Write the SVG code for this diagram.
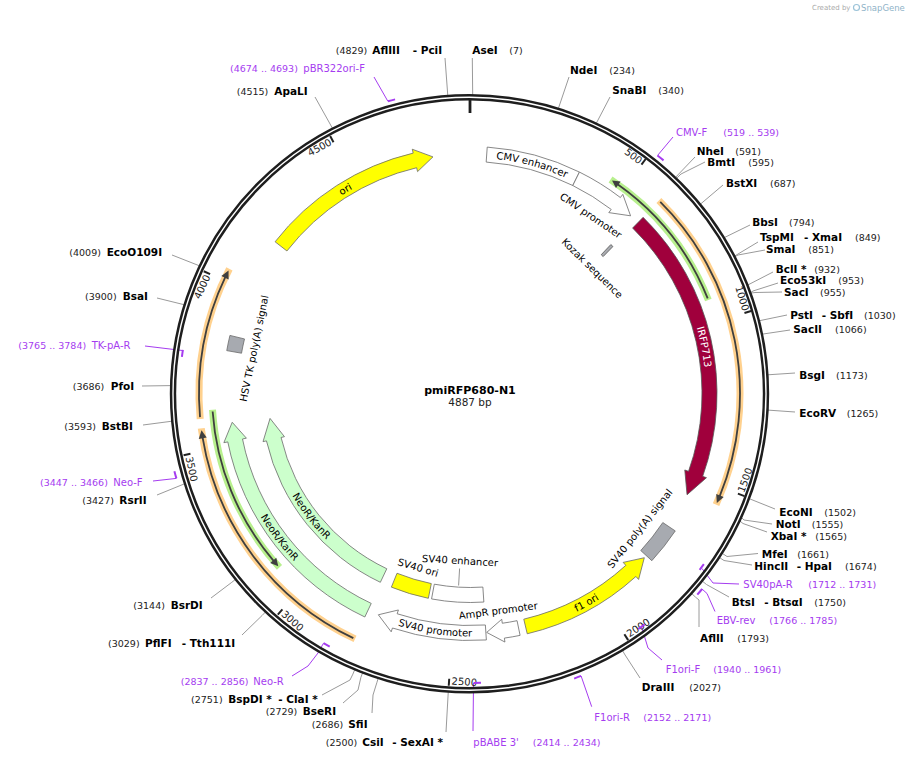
<svg xmlns="http://www.w3.org/2000/svg" width="910" height="759" viewBox="0 0 910 759">
<style>
.n{font:bold 10.5px "DejaVu Sans",sans-serif;fill:#000}
.p{font:9.5px "DejaVu Sans",sans-serif;fill:#222}
.pr{font:10px "DejaVu Sans",sans-serif;fill:#a53cf0}
.prn{font:9.5px "DejaVu Sans",sans-serif;fill:#a53cf0}
.ll{stroke:#9a9a9a;stroke-width:1;fill:none}
.pl{stroke:#a53cf0;stroke-width:1;fill:none}
.pm{stroke:#a53cf0;stroke-width:2;fill:none}
.f{stroke:#6a6a6a;stroke-width:0.8}
.fl{font:10px "DejaVu Sans",sans-serif;fill:#000}
.tk{stroke:#222;stroke-width:2}
.tl{font:10px "DejaVu Sans",sans-serif;fill:#222}
.gg{stroke:#b8f08e;stroke-width:7;fill:none}
.og{stroke:#ffd18e;stroke-width:7;fill:none}
.ol{stroke:#3f3f3f;stroke-width:1.8;fill:none}
.oh{fill:#3f3f3f}
</style>
<defs>
<path id="tpEnh" d="M486.46,158.08 A236,236 0 0 1 574.56,181.93"/>
<path id="tpIrfp" d="M635.41,225.17 A236,236 0 0 1 687.24,485.71"/>
<path id="tpOri" d="M284.03,248.20 A236,236 0 0 1 425.78,161.68"/>
<path id="tpF1" d="M528.79,629.28 A243,243 0 0 0 639.41,567.71"/>
<path id="tpSvp" d="M393.30,624.08 A243,243 0 0 0 476.78,636.41"/>
<path id="tpNeo1" d="M241.66,476.61 A243,243 0 0 0 327.85,590.59"/>
<path id="tpNeo2" d="M277.36,463.61 A205,205 0 0 0 353.59,562.24"/>
</defs>
<rect width="910" height="759" fill="#fff"/>
<g id="credit">
<text x="812" y="10" style="font:7px 'DejaVu Sans',sans-serif;fill:#aaa">Created by</text>
<circle cx="856.5" cy="7.5" r="3" fill="none" stroke="#9bc3d8" stroke-width="1.2"/>
<text x="861" y="10.5" style="font:8.5px 'DejaVu Sans',sans-serif;fill:#8fb3c8">SnapGene</text>
</g>
<g id="orfs">
<path class="gg" d="M708.36,300.09 A256,256 0 0 0 610.55,179.53"/>
<path class="ol" d="M707.69,298.43 A256,256 0 0 0 617.57,184.31"/>
<polygon class="oh" points="612.04,180.52 620.61,181.57 615.98,188.09"/>
<path class="og" d="M658.91,200.59 A270,270 0 0 1 716.08,504.61"/>
<path class="ol" d="M660.25,201.92 A270,270 0 0 1 719.63,496.39"/>
<polygon class="oh" points="716.85,502.89 723.69,497.03 716.28,494.01"/>
<path class="og" d="M355.04,638.91 A271,271 0 0 1 201.26,428.40"/>
<path class="ol" d="M353.33,638.10 A271,271 0 0 1 202.56,437.29"/>
<polygon class="oh" points="201.51,430.28 198.77,438.89 206.66,437.57"/>
<path class="og" d="M200.20,419.00 A271,271 0 0 1 229.40,268.79"/>
<path class="ol" d="M200.03,417.12 A271,271 0 0 1 225.40,276.83"/>
<polygon class="oh" points="228.54,270.47 221.38,275.98 228.61,279.39"/>
<path class="gg" d="M212.51,409.70 A258,258 0 0 0 279.48,567.47"/>
<path class="ol" d="M212.63,411.50 A258,258 0 0 0 273.81,561.06"/>
<polygon class="oh" points="278.27,566.14 270.18,562.96 276.28,557.78"/>
</g>
<g id="connectors">
<polyline class="ll" points="445,58 447.8,95.8"/>
<polyline class="ll" points="472.3,58 472.7,95"/>
<polyline class="ll" points="569,77 558.4,108.4"/>
<polyline class="ll" points="610,97 596.4,123.1"/>
<polyline class="ll" points="695,157 675.7,177.2"/>
<polyline class="ll" points="705,162 681,174 676.7,178.2"/>
<polyline class="ll" points="723,185 700.6,204"/>
<polyline class="ll" points="750,225 724.5,237.5"/>
<polyline class="ll" points="758,242 734.9,255.9"/>
<polyline class="ll" points="765,250 738,255 735.2,256.6"/>
<polyline class="ll" points="773,272 748,284.9"/>
<polyline class="ll" points="778,283 753,291 750.9,292.4"/>
<polyline class="ll" points="782,292 755,292.5 751.1,293.1"/>
<polyline class="ll" points="787,315 759.5,320.7"/>
<polyline class="ll" points="790,330 762.5,334.1"/>
<polyline class="ll" points="795,373 767.9,374.8"/>
<polyline class="ll" points="795,412 768,410.1"/>
<polyline class="ll" points="775,509 749.3,498.7"/>
<polyline class="ll" points="772,524 744,520 741.5,517.5"/>
<polyline class="ll" points="767,532 743,523.5 739.9,521"/>
<polyline class="ll" points="758,553.5 727,556.5 722.2,553.3"/>
<polyline class="ll" points="752,565 724,560.5 719.4,557.5"/>
<polyline class="ll" points="729,597 706.5,584.5 702.2,581"/>
<polyline class="ll" points="699,627 699,600 695.6,597.2 691.6,593.5"/>
<polyline class="ll" points="640,678 625.1,655 622.3,650.2"/>
<polyline class="ll" points="446,732 448.3,691.2"/>
<polyline class="ll" points="372,713 373,695 376.8,682.8 378.4,677.6"/>
<polyline class="ll" points="343,703 358,690 360.9,677.3 362.9,672.1"/>
<polyline class="ll" points="322,695 350,680 352.9,674.1 355,669"/>
<polyline class="ll" points="242,635 262.2,615.4 266,611.4"/>
<polyline class="ll" points="211,598 231.8,582.3 236.1,578.9"/>
<polyline class="ll" points="157,495 184.5,483.8"/>
<polyline class="ll" points="143,425 172,421.2"/>
<polyline class="ll" points="142,386 171,385.6"/>
<polyline class="ll" points="157,298 184.5,304.8"/>
<polyline class="ll" points="172,255 199.7,265.9"/>
<polyline class="ll" points="315,97 332.6,128.5"/>
<polyline class="pl" points="673,137 657.5,155.5"/>
<polyline class="pl" points="374,77 387.9,101.3"/>
<polyline class="pl" points="702,568.5 713,583 739,584"/>
<polyline class="pl" points="702,589 707,593.5 715,611.5"/>
<polyline class="pl" points="641.5,626.7 648,648 662,660"/>
<polyline class="pl" points="581.1,676 591.7,706.7"/>
<polyline class="pl" points="473.5,683 473,731"/>
<polyline class="pl" points="292,676 308,666 318,653 323.5,643.2"/>
<polyline class="pl" points="153,481 176.4,478.4"/>
<polyline class="pl" points="145,346 182.4,350.5"/>
</g>
<g id="ring">
<circle cx="469.5" cy="393.8" r="296.5" fill="none" stroke="#1e1e1e" stroke-width="6.4"/>
<circle cx="469.5" cy="393.8" r="296.5" fill="none" stroke="#fff" stroke-width="1.4"/>
<line x1="470" y1="99.5" x2="470" y2="113" stroke="#1e1e1e" stroke-width="2.8"/>
<line class="tk" x1="645.67" y1="159.00" x2="641.47" y2="164.60"/>
<line class="tk" x1="751.16" y1="311.08" x2="744.45" y2="313.05"/>
<line class="tk" x1="744.46" y1="496.09" x2="737.90" y2="493.64"/>
<line class="tk" x1="628.16" y1="640.14" x2="624.38" y2="634.25"/>
<line class="tk" x1="448.73" y1="685.73" x2="449.24" y2="678.74"/>
<line class="tk" x1="277.80" y1="614.65" x2="282.40" y2="609.37"/>
<line class="tk" x1="183.58" y1="455.27" x2="190.43" y2="453.80"/>
<line class="tk" x1="203.74" y1="271.22" x2="210.10" y2="274.14"/>
<line class="tk" x1="330.15" y1="136.03" x2="333.49" y2="142.18"/>
<text class="tl" x="468" y="109" text-anchor="end" transform="rotate(36.833 470 393.5)">500</text>
<text class="tl" x="468" y="109" text-anchor="end" transform="rotate(73.665 470 393.5)">1000</text>
<text class="tl" x="472.5" y="685" transform="rotate(-69.502 470 393.5)">1500</text>
<text class="tl" x="472.5" y="685" transform="rotate(-32.67 470 393.5)">2000</text>
<text class="tl" x="472.5" y="685" transform="rotate(4.16 470 393.5)">2500</text>
<text class="tl" x="472.5" y="685" transform="rotate(40.995 470 393.5)">3000</text>
<text class="tl" x="472.5" y="685" transform="rotate(77.83 470 393.5)">3500</text>
<text class="tl" x="468" y="109" text-anchor="end" transform="rotate(-65.34 470 393.5)">4000</text>
<text class="tl" x="468" y="109" text-anchor="end" transform="rotate(-28.51 470 393.5)">4500</text>
</g>
<g id="primers">
<path class="pm" d="M657.49,155.48 A303,303 0 0 1 663.55,160.37"/>
<path class="pm" d="M387.92,101.31 A303.5,303.5 0 0 1 395.09,99.39"/>
<path class="pm" d="M703.85,564.16 A289.5,289.5 0 0 1 699.63,569.80"/>
<path class="pm" d="M702.15,588.99 A303.5,303.5 0 0 1 697.31,594.61"/>
<path class="pm" d="M644.63,624.40 A289.5,289.5 0 0 1 638.29,629.06"/>
<path class="pm" d="M581.09,675.94 A303.5,303.5 0 0 1 574.15,678.57"/>
<path class="pm" d="M480.96,682.79 A289.5,289.5 0 0 1 473.54,682.98"/>
<path class="pm" d="M329.69,646.72 A289.5,289.5 0 0 1 323.53,643.22"/>
<path class="pm" d="M176.4,478.4 A305,305 0 0 1 174.4,471.2"/>
<path class="pm" d="M181.9,356.9 A290,290 0 0 1 182.9,349.9"/>
</g>
<g id="cmv-enhancer">
<path class="f" fill="#fff" d="M487.23,147.10 A247,247 0 0 1 579.44,172.07 L572.79,185.51 A232,232 0 0 0 486.18,162.07 Z"/>
<text class="fl"><textPath href="#tpEnh" startOffset="50%" text-anchor="middle">CMV enhancer</textPath></text>
</g>
<g id="cmv-promoter">
<path class="f" fill="#fff" d="M579.44,172.07 A247,247 0 0 1 620.36,197.54 L622.80,194.37 L630.57,215.80 L608.80,212.62 L611.23,209.44 A232,232 0 0 0 572.79,185.51 Z"/>
<text class="fl" x="470" y="182" text-anchor="middle" transform="rotate(34.2 470 393.5)">CMV promoter</text>
</g>
<g id="kozak">
<path fill="#a9abb0" stroke="#555" stroke-width="0.8" d="M610.85,244.55 L612.92,246.53 L603.16,256.57 L601.23,254.72 Z"/>
<text class="fl" x="470" y="222" text-anchor="middle" transform="rotate(44.3 470 393.5)">Kozak sequence</text>
</g>
<g id="irfp713">
<path fill="#a0003c" stroke="#555" stroke-width="0.8" d="M643.12,217.33 A247,247 0 0 1 702.69,476.36 L706.46,477.70 L687.06,494.72 L684.79,469.98 L688.56,471.32 A232,232 0 0 0 632.61,228.03 Z"/>
<text class="fl" style="fill:#fff"><textPath href="#tpIrfp" startOffset="50%" text-anchor="middle">IRFP713</textPath></text>
</g>
<g id="sv40-polya">
<path class="f" fill="#a7aab0" d="M675.27,530.91 A247,247 0 0 1 651.82,560.69 L640.78,550.54 A232,232 0 0 0 662.81,522.56 Z"/>
<text class="fl" x="470" y="614" text-anchor="middle" transform="rotate(-51.5 470 393.5)">SV40 poly(A) signal</text>
</g>
<g id="f1-ori">
<path class="f" fill="#ffff00" d="M527.24,633.78 A247,247 0 0 0 635.91,576.48 L638.60,579.44 L644.32,557.73 L623.15,562.40 L625.84,565.37 A232,232 0 0 1 523.77,619.18 Z"/>
<text class="fl"><textPath href="#tpF1" startOffset="50%" text-anchor="middle">f1 ori</textPath></text>
</g>
<g id="ampr-promoter">
<path class="f" fill="#fff" d="M520.09,635.37 A247,247 0 0 1 504.37,638.10 L504.93,642.06 L486.71,632.42 L501.73,619.28 L502.29,623.24 A232,232 0 0 0 517.05,620.68 Z"/>
<text class="fl" x="470" y="616" text-anchor="middle" transform="rotate(-7.4 470 393.5)">AmpR promoter</text>
</g>
<g id="sv40-promoter">
<path class="f" fill="#fff" d="M486.37,639.96 A247,247 0 0 1 392.44,628.01 L391.19,631.81 L378.35,614.77 L398.41,609.97 L397.15,613.77 A232,232 0 0 0 485.37,624.99 Z"/>
<text class="fl"><textPath href="#tpSvp" startOffset="50%" text-anchor="middle">SV40 promoter</textPath></text>
</g>
<g id="sv40-enhancer">
<path class="f" fill="#fff" d="M483.85,602.04 A209,209 0 0 1 431.55,598.93 L434.31,584.19 A194,194 0 0 0 482.86,587.07 Z"/>
<line x1="458.6" y1="585.5" x2="459.6" y2="568.5" stroke="#777" stroke-width="0.8"/>
<text class="fl" x="470" y="564.5" text-anchor="middle" transform="rotate(3.4 470 393.5)">SV40 enhancer</text>
</g>
<g id="sv40-ori">
<path class="f" fill="#ffff00" d="M428.33,598.30 A209,209 0 0 1 391.37,587.14 L397.01,573.25 A194,194 0 0 0 431.32,583.60 Z"/>
<text class="fl" x="470" y="578.7" text-anchor="middle" transform="rotate(16.6 470 393.5)">SV40 ori</text>
</g>
<g id="neor-outer">
<path class="f" fill="#ccffcc" d="M364.83,616.99 A247,247 0 0 1 227.79,441.90 L223.87,442.68 L232.23,422.27 L246.42,438.18 L242.50,438.96 A232,232 0 0 0 371.22,603.42 Z"/>
<text class="fl"><textPath href="#tpNeo1" startOffset="50%" text-anchor="middle">NeoR/KanR</textPath></text>
</g>
<g id="neor-inner">
<path class="f" fill="#ccffcc" d="M380.35,582.30 A209,209 0 0 1 266.44,440.87 L263.03,441.66 L270.05,418.41 L284.46,436.68 L281.05,437.47 A194,194 0 0 0 386.79,568.75 Z"/>
<text class="fl"><textPath href="#tpNeo2" startOffset="50%" text-anchor="middle">NeoR/KanR</textPath></text>
</g>
<g id="hsv-tk-polya">
<path class="f" fill="#a7aab0" d="M226.75,350.61 A247,247 0 0 1 229.93,335.42 L244.51,338.95 A232,232 0 0 0 241.52,353.21 Z"/>
<text class="fl" x="470" y="176.5" text-anchor="middle" transform="rotate(-78.2 470 393.5)">HSV TK poly(A) signal</text>
</g>
<g id="ori">
<path class="f" fill="#ffff00" d="M275.10,241.77 A247,247 0 0 1 413.18,153.12 L412.26,149.23 L432.94,156.88 L417.55,171.61 L416.63,167.72 A232,232 0 0 0 286.93,250.98 Z"/>
<text class="fl"><textPath href="#tpOri" startOffset="50%" text-anchor="middle">ori</textPath></text>
</g>
<g id="title">
<text x="470" y="394" text-anchor="middle" style="font:bold 11px 'DejaVu Sans',sans-serif;fill:#000">pmiRFP680-N1</text>
<text x="470" y="405.5" text-anchor="middle" style="font:10.5px 'DejaVu Sans',sans-serif;fill:#222">4887 bp</text>
</g>
<g id="site-labels">
<text class="p" x="335.7" y="54">(4829)</text><text class="n" x="372.3" y="54">AflIII</text><text class="n" x="412.7" y="54">- PciI</text>
<text class="n" x="472.3" y="54">AseI</text><text class="p" x="509.3" y="54">(7)</text>
<text class="n" x="570" y="74">NdeI</text><text class="p" x="609.3" y="74">(234)</text>
<text class="n" x="612.3" y="93.5">SnaBI</text><text class="p" x="658.3" y="93.5">(340)</text>
<text class="n" x="696.7" y="154.5">NheI</text><text class="p" x="735.3" y="154.5">(591)</text>
<text class="n" x="707.3" y="166">BmtI</text><text class="p" x="748.3" y="166">(595)</text>
<text class="n" x="726" y="187">BstXI</text><text class="p" x="770" y="187">(687)</text>
<text class="n" x="752.3" y="226">BbsI</text><text class="p" x="789" y="226">(794)</text>
<text class="n" x="760" y="240.7">TspMI</text><text class="n" x="804" y="240.7">- XmaI</text><text class="p" x="855" y="240.7">(849)</text>
<text class="n" x="766" y="252.7">SmaI</text><text class="p" x="808.3" y="252.7">(851)</text>
<text class="n" x="775.7" y="272.7">BclI *</text><text class="p" x="814.3" y="272.7">(932)</text>
<text class="n" x="780" y="284.3">Eco53kI</text><text class="p" x="838.3" y="284.3">(953)</text>
<text class="n" x="784" y="296">SacI</text><text class="p" x="820" y="296">(955)</text>
<text class="n" x="790.3" y="319">PstI</text><text class="n" x="821.7" y="319">- SbfI</text><text class="p" x="864" y="319">(1030)</text>
<text class="n" x="793.3" y="333.3">SacII</text><text class="p" x="835" y="333.3">(1066)</text>
<text class="n" x="799.3" y="378.7">BsgI</text><text class="p" x="836" y="378.7">(1173)</text>
<text class="n" x="799.3" y="416.7">EcoRV</text><text class="p" x="846.7" y="416.7">(1265)</text>
<text class="n" x="779.3" y="516">EcoNI</text><text class="p" x="824.3" y="516">(1502)</text>
<text class="n" x="775.7" y="527.7">NotI</text><text class="p" x="811.7" y="527.7">(1555)</text>
<text class="n" x="770.7" y="540">XbaI *</text><text class="p" x="815.3" y="540">(1565)</text>
<text class="n" x="761.7" y="557.7">MfeI</text><text class="p" x="797.3" y="557.7">(1661)</text>
<text class="n" x="754.3" y="570">HincII</text><text class="n" x="796.7" y="570">- HpaI</text><text class="p" x="845" y="570">(1674)</text>
<text class="n" x="731.7" y="606">BtsI</text><text class="n" x="764.3" y="606">- BtsαI</text><text class="p" x="814.3" y="606">(1750)</text>
<text class="n" x="700" y="642">AflII</text><text class="p" x="737.3" y="642">(1793)</text>
<text class="n" x="641.7" y="690.7">DraIII</text><text class="p" x="689.3" y="690.7">(2027)</text>
<text class="p" x="325.7" y="746">(2500)</text><text class="n" x="362.3" y="746">CsiI</text><text class="n" x="392.3" y="746">- SexAI *</text>
<text class="p" x="311.7" y="727.7">(2686)</text><text class="n" x="348.3" y="727.7">SfiI</text>
<text class="p" x="265.7" y="715">(2729)</text><text class="n" x="302.7" y="715">BseRI</text>
<text class="p" x="191" y="703.3">(2751)</text><text class="n" x="228.3" y="703.3">BspDI *</text><text class="n" x="278.3" y="703.3">- ClaI *</text>
<text class="p" x="108" y="646.7">(3029)</text><text class="n" x="145" y="646.7">PflFI</text><text class="n" x="181.7" y="646.7">- Tth111I</text>
<text class="p" x="133.3" y="609">(3144)</text><text class="n" x="170.7" y="609">BsrDI</text>
<text class="p" x="82.3" y="504">(3427)</text><text class="n" x="119.3" y="504">RsrII</text>
<text class="p" x="64.3" y="430">(3593)</text><text class="n" x="101.7" y="430">BstBI</text>
<text class="p" x="72.7" y="390">(3686)</text><text class="n" x="110.7" y="390">PfoI</text>
<text class="p" x="85" y="300">(3900)</text><text class="n" x="122.7" y="300">BsaI</text>
<text class="p" x="69.3" y="255.7">(4009)</text><text class="n" x="106.7" y="255.7">EcoO109I</text>
<text class="p" x="236.7" y="95">(4515)</text><text class="n" x="274.3" y="95">ApaLI</text>
</g>
<g id="primer-labels">
<text class="pr" x="676" y="136">CMV-F</text><text class="prn" x="723.3" y="136">(519 .. 539)</text>
<text class="pr" x="743.3" y="588.3">SV40pA-R</text><text class="prn" x="808.3" y="588.3">(1712 .. 1731)</text>
<text class="pr" x="716.7" y="624.3">EBV-rev</text><text class="prn" x="769.3" y="624.3">(1766 .. 1785)</text>
<text class="pr" x="665.7" y="672.7">F1ori-F</text><text class="prn" x="713.3" y="672.7">(1940 .. 1961)</text>
<text class="pr" x="594.3" y="720.7">F1ori-R</text><text class="prn" x="643.3" y="720.7">(2152 .. 2171)</text>
<text class="pr" x="473.3" y="746">pBABE 3'</text><text class="prn" x="532.7" y="746">(2414 .. 2434)</text>
<text class="prn" x="180.7" y="685">(2837 .. 2856)</text><text class="pr" x="253.3" y="685">Neo-R</text>
<text class="prn" x="40" y="486">(3447 .. 3466)</text><text class="pr" x="113.3" y="486">Neo-F</text>
<text class="prn" x="18.3" y="349.3">(3765 .. 3784)</text><text class="pr" x="91.7" y="349.3">TK-pA-R</text>
<text class="prn" x="230" y="72.3">(4674 .. 4693)</text><text class="pr" x="303.3" y="72.3">pBR322ori-F</text>
</g>
</svg>
